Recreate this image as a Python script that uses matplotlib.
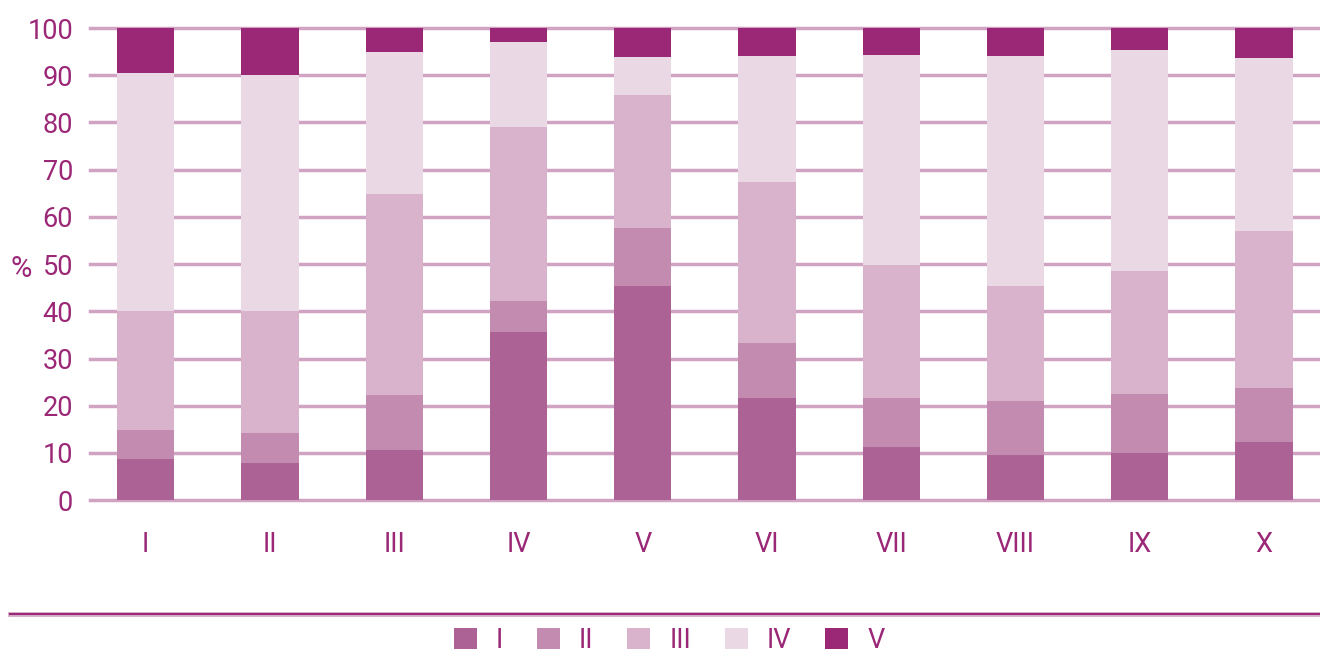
import numpy as np
import matplotlib
matplotlib.use('Agg')
import matplotlib.pyplot as plt
from matplotlib.lines import Line2D

# Categories and series (percent shares)
categories = ['I', 'II', 'III', 'IV', 'V', 'VI', 'VII', 'VIII', 'IX', 'X']
series_names = ['I', 'II', 'III', 'IV', 'V']
s1 = [8.7, 7.8, 10.6, 35.6, 45.3, 21.6, 11.2, 9.5, 10.0, 12.3]
s2 = [6.1, 6.4, 11.6, 6.6, 12.3, 11.7, 10.4, 11.5, 12.5, 11.4]
s3 = [25.2, 25.8, 42.6, 36.8, 28.2, 34.1, 28.2, 24.3, 26.0, 33.3]
s4 = [50.5, 50.0, 30.1, 18.0, 8.1, 26.7, 44.5, 48.8, 46.8, 36.6]
s5 = [9.5, 10.0, 5.1, 3.0, 6.1, 5.9, 5.7, 5.9, 4.7, 6.4]

colors = ['#ad6296', '#c48bb0', '#d8b3cb', '#ead9e5', '#9b2777']
text_color = '#9b2777'
grid_color = '#d1a3c3'

plt.rcParams['font.family'] = ['Roboto', 'DejaVu Sans']

fig = plt.figure(figsize=(13.2, 6.59), dpi=100)
ax = fig.add_axes([0.068, 0.241, 0.932, 0.7165])

x = np.arange(len(categories))
bottom = np.zeros(len(categories))
handles = []
for name, vals, c in zip(series_names, [s1, s2, s3, s4, s5], colors):
    b = ax.bar(x, vals, width=0.46, bottom=bottom, color=c, label=name, zorder=2)
    handles.append(b)
    bottom += np.array(vals)

ax.set_xlim(-0.45, len(categories) - 0.55)
ax.set_ylim(0, 100)
ax.set_yticks(range(0, 101, 10))
ax.set_xticks(x)
ax.set_xticklabels(categories)

ax.yaxis.grid(True, color=grid_color, linewidth=2.5, zorder=0)
ax.set_axisbelow(True)
for gl in ax.get_ygridlines():
    gl.set_clip_on(False)

for s in ax.spines.values():
    s.set_visible(False)
ax.tick_params(axis='both', length=0, colors=text_color, labelsize=19.5)
ax.tick_params(axis='y', pad=12)
ax.tick_params(axis='x', pad=22)

ax.set_ylabel('%', rotation=0, color=text_color, fontsize=21)
ax.yaxis.set_label_coords(-0.056, 0.46)

# separator line above legend
fig.add_artist(Line2D([0.0076, 1.0], [0.068, 0.068], transform=fig.transFigure,
                      color='#d6b0cb', linewidth=3.5))
fig.add_artist(Line2D([0.0076, 1.0], [0.068, 0.068], transform=fig.transFigure,
                      color=text_color, linewidth=1.5))

leg = fig.legend(handles=handles, labels=series_names, loc='center',
                 bbox_to_anchor=(0.507, 0.028), ncol=5, frameon=False,
                 fontsize=19.5, handlelength=0.85, handleheight=0.85,
                 handletextpad=0.7, columnspacing=1.25)
for t in leg.get_texts():
    t.set_color(text_color)

fig.savefig('out.png', dpi=100)
